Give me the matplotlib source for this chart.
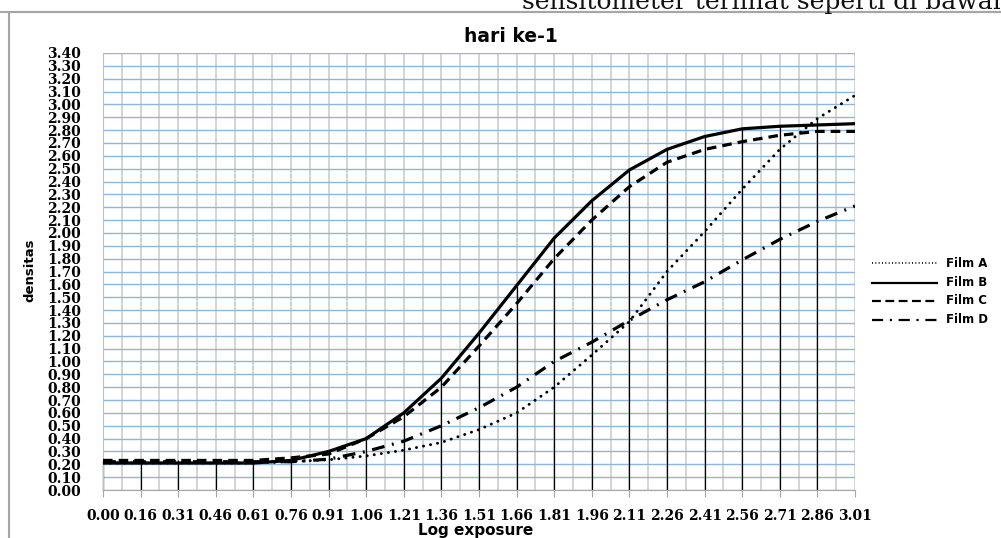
import numpy as np
import matplotlib
matplotlib.use("Agg")
import matplotlib.pyplot as plt
from matplotlib.lines import Line2D
from matplotlib.patches import Rectangle

# ---- data ----
x_labels = ["0.00", "0.16", "0.31", "0.46", "0.61", "0.76", "0.91", "1.06", "1.21", "1.36",
            "1.51", "1.66", "1.81", "1.96", "2.11", "2.26", "2.41", "2.56", "2.71", "2.86", "3.01"]
film_a = [0.21, 0.21, 0.21, 0.21, 0.21, 0.22, 0.235, 0.265, 0.31, 0.37, 0.47,
          0.60, 0.80, 1.05, 1.31, 1.70, 2.01, 2.34, 2.65, 2.89, 3.07]
film_b = [0.21, 0.21, 0.21, 0.21, 0.21, 0.23, 0.30, 0.40, 0.60, 0.87, 1.22,
          1.59, 1.96, 2.25, 2.49, 2.65, 2.75, 2.81, 2.83, 2.84, 2.85]
film_c = [0.23, 0.23, 0.23, 0.23, 0.23, 0.25, 0.28, 0.40, 0.57, 0.80, 1.12,
          1.45, 1.80, 2.10, 2.36, 2.55, 2.65, 2.71, 2.76, 2.79, 2.79]
film_d = [0.22, 0.22, 0.22, 0.22, 0.22, 0.22, 0.24, 0.30, 0.38, 0.50, 0.64,
          0.80, 1.00, 1.15, 1.32, 1.48, 1.62, 1.79, 1.95, 2.09, 2.21]
series_names = ["Film A", "Film B", "Film C", "Film D"]
y_ticks = [round(0.1 * i, 2) for i in range(35)]

W, H = 1001, 538
fig = plt.figure(figsize=(W / 100, H / 100), dpi=100)
fx = lambda px: px / W
fy = lambda py: 1 - py / H

# outer chart frame
fig.patches.append(Rectangle((fx(9), fy(560)), fx(1020) - fx(9), fy(12) - fy(560),
                             transform=fig.transFigure, fill=False, edgecolor="#a6a6a6",
                             linewidth=1.5, clip_on=False))
fig.add_artist(Line2D([0, 1], [fy(12), fy(12)], transform=fig.transFigure,
                      color="#a6a6a6", lw=1.5))
# clipped text from the surrounding document (cut by the page edge, as in the source)
fig.text(fx(522), fy(9), "sensitometer terlihat seperti di bawah", family="DejaVu Serif",
         fontsize=18, va="baseline", ha="left", color="#111111")

ax = fig.add_axes([fx(103), fy(490), fx(855) - fx(103), fy(53) - fy(490)])
x = np.arange(len(x_labels))

ax.set_xlim(0, len(x_labels) - 1)
ax.set_ylim(0, 3.4)

# grid
for v in np.arange(0, len(x_labels) - 0.5, 0.5):
    ax.axvline(v, color="#d4d4d4", lw=1.4, zorder=0)
for v in y_ticks:
    ax.axhline(v, color="#8db6e0", lw=1.0, zorder=0.5)

# drop lines
top = np.max(np.vstack([film_a, film_b, film_c, film_d]), axis=0)
ax.vlines(x[:-1], 0, top[:-1], color="black", lw=0.9, zorder=2, clip_on=False)

lw = 2.1
ax.plot(x, film_a, color="black", lw=lw, linestyle=(0, (0.05, 2.4)),
        dash_capstyle="round", zorder=3)
ax.plot(x, film_b, color="black", lw=lw + 0.2, linestyle="-", zorder=3)
ax.plot(x, film_c, color="black", lw=lw + 0.2, linestyle=(0, (3.0, 1.9)),
        dash_capstyle="butt", zorder=3)
ax.plot(x, film_d, color="black", lw=lw + 0.2, linestyle=(0, (4.0, 2.4, 0.6, 2.4)),
        dash_capstyle="butt", zorder=3)

for s in ["top", "right"]:
    ax.spines[s].set_visible(False)
ax.spines["left"].set_color("#bfbfbf")
ax.spines["bottom"].set_color("#a6a6a6")

ax.set_xticks(x)
ax.set_xticklabels(x_labels, family="DejaVu Serif", fontweight="bold", fontsize=10)
ax.set_yticks(y_ticks)
ax.set_yticklabels([f"{v:.2f}" for v in y_ticks], family="DejaVu Serif",
                   fontweight="bold", fontsize=10)
ax.tick_params(axis="x", length=5, color="#a6a6a6", pad=9)
ax.tick_params(axis="y", length=0, pad=16)

fig.text(fx(511), fy(37), "hari ke-1", family="DejaVu Sans", fontweight="bold",
         fontsize=13.5, ha="center", va="center")
fig.text(fx(30), fy(270), "densitas", family="DejaVu Sans", fontweight="bold",
         fontsize=9.5, ha="center", va="center", rotation=90)
fig.text(fx(476), fy(531), "Log exposure", family="DejaVu Sans", fontweight="bold",
         fontsize=11, ha="center", va="center")

# legend (manual)
styles = [dict(linestyle=(0, (0.6, 1.4)), lw=1.2),
          dict(linestyle="-", lw=1.6),
          dict(linestyle=(0, (4.0, 2.0)), lw=1.6),
          dict(linestyle=(0, (5.0, 3.0, 1.0, 3.0)), lw=1.6)]
rows = [263, 282.5, 301, 319.5]
for name, st, ry in zip(series_names, styles, rows):
    fig.add_artist(Line2D([fx(872), fx(937)], [fy(ry), fy(ry)], transform=fig.transFigure,
                          color="black", **st))
    fig.text(fx(946), fy(ry), name, family="DejaVu Sans", fontweight="bold",
             fontsize=8.5, ha="left", va="center")

fig.savefig("out.png", dpi=100)
